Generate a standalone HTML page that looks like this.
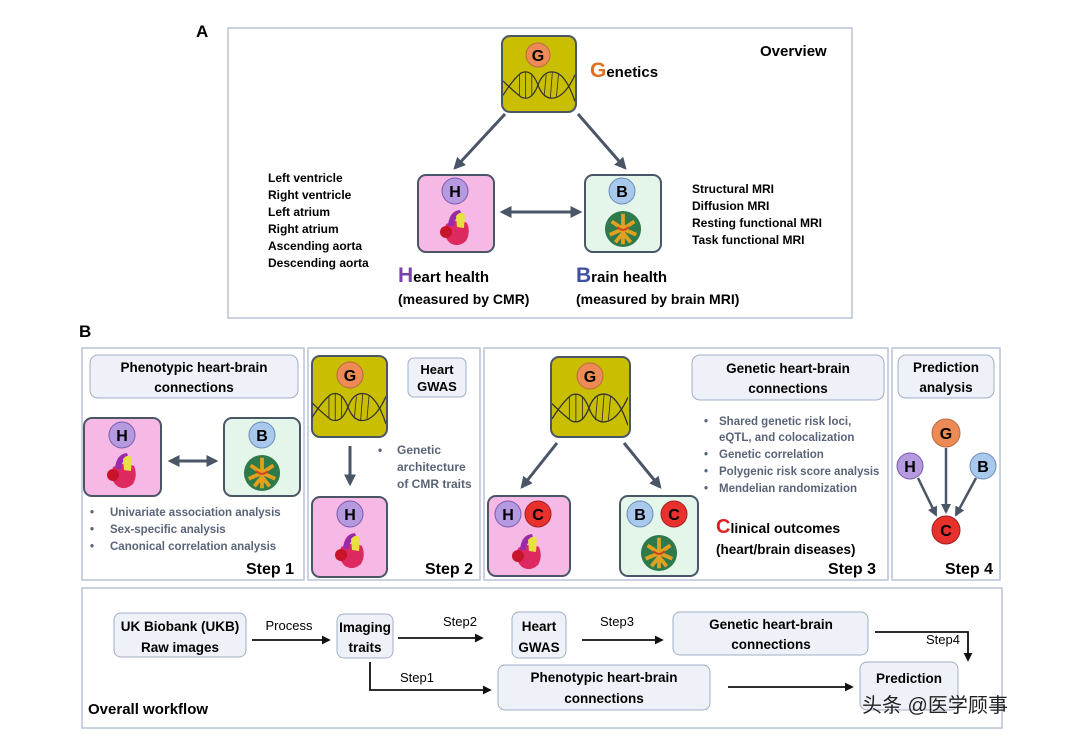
<!DOCTYPE html>
<html><head><meta charset="utf-8"><style>
html,body{margin:0;padding:0;background:#fff;}
svg{display:block;}
text{font-family:"Liberation Sans","Noto Sans CJK SC",sans-serif;}
.b{font-weight:bold;}
</style></head><body>
<svg width="1080" height="740" viewBox="0 0 1080 740" xmlns="http://www.w3.org/2000/svg">
<defs>
<marker id="ar" viewBox="0 0 10 10" refX="8" refY="5" markerWidth="4" markerHeight="4" orient="auto-start-reverse"><path d="M0,0L10,5L0,10z" fill="#4a5566"/></marker>
<marker id="ak" viewBox="0 0 10 10" refX="8" refY="5" markerWidth="5" markerHeight="5" orient="auto"><path d="M0,0L10,5L0,10z" fill="#111"/></marker>
<symbol id="heart" viewBox="0 0 30 38"><path d="M6 16 Q2 28 10 35 Q18 40 26 33 Q31 24 27 15 Q18 10 6 16z" fill="#dc2a60"/><circle cx="6" cy="24" r="6" fill="#c8142a"/><path d="M8 18 Q9 3 20 2 L22 8 Q14 9 14 18z" fill="#9a2aa8"/><path d="M16 8 Q21 2 25 7 L24 20 L17 19z" fill="#e8e040"/></symbol>
<symbol id="brain" viewBox="0 0 40 40"><circle cx="20" cy="20" r="19" fill="#2f7a4a"/><path d="M20 4 L20 36 M8 12 L20 20 L32 12 M6 26 L20 20 L34 26 M12 34 L20 24 L28 34" stroke="#e0a020" stroke-width="4" fill="none"/><path d="M14 18 Q20 24 26 18" stroke="#d04020" stroke-width="2" fill="none"/></symbol>
<symbol id="dna" viewBox="0 0 70 40"><path d="M0 30 Q10 14 18 8 Q28 4 34 20 Q40 36 52 32 Q62 28 70 10" stroke="#333" stroke-width="1.2" fill="none"/><path d="M0 16 Q10 26 18 32 Q28 36 34 20 Q40 4 52 8 Q62 12 70 36" stroke="#333" stroke-width="1.2" fill="none"/><path d="M16 10 L16 30 M22 7 L22 33 M28 9 L28 31 M42 10 L40 31 M48 7 L46 33 M54 9 L52 31" stroke="#333" stroke-width="0.8"/></symbol>
</defs>

<text x="196" y="37" font-size="17" class="b">A</text>
<rect x="228" y="28" width="624" height="290" fill="#fff" stroke="#b8c4d8" stroke-width="1.5"/>
<text x="760" y="56" font-size="15" class="b">Overview</text>
<rect x="502" y="36" width="74" height="76" rx="8" fill="#c9be00" stroke="#4a5566" stroke-width="2"/>
<use href="#dna" x="503" y="62" width="72" height="46"/>
<circle cx="538" cy="55" r="12" fill="#ee8a55" stroke="#b86a40"/><text x="538" y="61" font-size="16" class="b" text-anchor="middle">G</text>
<text x="590" y="77" font-size="15" class="b"><tspan fill="#e07020" font-size="21">G</tspan>enetics</text>
<line x1="505" y1="114" x2="455" y2="168" stroke="#4a5566" stroke-width="3" marker-end="url(#ar)"/>
<line x1="578" y1="114" x2="625" y2="168" stroke="#4a5566" stroke-width="3" marker-end="url(#ar)"/>
<rect x="418" y="175" width="76" height="77" rx="8" fill="#f6b8e4" stroke="#4a5566" stroke-width="2"/>
<circle cx="455" cy="191" r="13" fill="#b59ae0" stroke="#7a5ab0"/><text x="455" y="197" font-size="16" class="b" text-anchor="middle">H</text>
<use href="#heart" x="440" y="208" width="30" height="38"/>
<rect x="585" y="175" width="76" height="77" rx="8" fill="#e4f6ea" stroke="#4a5566" stroke-width="2"/>
<circle cx="622" cy="191" r="13" fill="#a8c8ec" stroke="#6a8ab8"/><text x="622" y="197" font-size="16" class="b" text-anchor="middle">B</text>
<use href="#brain" x="604" y="210" width="38" height="38"/>
<line x1="502" y1="212" x2="580" y2="212" stroke="#4a5566" stroke-width="3" marker-start="url(#ar)" marker-end="url(#ar)"/>
<g font-size="12" class="b"><text x="268" y="182">Left ventricle</text><text x="268" y="199">Right ventricle</text><text x="268" y="216">Left atrium</text><text x="268" y="233">Right atrium</text><text x="268" y="250">Ascending aorta</text><text x="268" y="267">Descending aorta</text>
<text x="692" y="193">Structural MRI</text><text x="692" y="210">Diffusion MRI</text><text x="692" y="227">Resting functional MRI</text><text x="692" y="244">Task functional MRI</text></g>
<text x="398" y="282" font-size="15" class="b"><tspan fill="#7a40b0" font-size="21">H</tspan>eart health</text>
<text x="398" y="304" font-size="14" class="b">(measured by CMR)</text>
<text x="576" y="282" font-size="15" class="b"><tspan fill="#4050a0" font-size="21">B</tspan>rain health</text>
<text x="576" y="304" font-size="14" class="b">(measured by brain MRI)</text>

<text x="79" y="337" font-size="17" class="b">B</text>
<g fill="#fff" stroke="#b8c4d8" stroke-width="1.5">
<rect x="82" y="348" width="222" height="232"/><rect x="308" y="348" width="172" height="232"/><rect x="484" y="348" width="404" height="232"/><rect x="892" y="348" width="108" height="232"/>
<rect x="82" y="588" width="920" height="140"/></g>

<rect x="90" y="355" width="208" height="43" rx="8" fill="#eef2f8" stroke="#a0aec4"/>
<text x="194" y="372" font-size="13.5" class="b" text-anchor="middle">Phenotypic heart-brain</text><text x="194" y="392" font-size="13.5" class="b" text-anchor="middle">connections</text>
<rect x="84" y="418" width="77" height="78" rx="8" fill="#f6b8e4" stroke="#4a5566" stroke-width="2"/>
<circle cx="122" cy="435" r="13" fill="#b59ae0" stroke="#7a5ab0"/><text x="122" y="441" font-size="16" class="b" text-anchor="middle">H</text>
<use href="#heart" x="107" y="451" width="30" height="38"/>
<rect x="224" y="418" width="76" height="78" rx="8" fill="#e4f6ea" stroke="#4a5566" stroke-width="2"/>
<circle cx="262" cy="435" r="13" fill="#a8c8ec" stroke="#6a8ab8"/><text x="262" y="441" font-size="16" class="b" text-anchor="middle">B</text>
<use href="#brain" x="243" y="454" width="38" height="38"/>
<line x1="170" y1="461" x2="216" y2="461" stroke="#4a5566" stroke-width="3" marker-start="url(#ar)" marker-end="url(#ar)"/>
<g font-size="11.5" class="b" fill="#5a6478"><text x="90" y="516">•</text><text x="110" y="516">Univariate association analysis</text><text x="90" y="533">•</text><text x="110" y="533">Sex-specific analysis</text><text x="90" y="550">•</text><text x="110" y="550">Canonical correlation analysis</text></g>
<text x="246" y="574" font-size="16" class="b">Step 1</text>

<rect x="312" y="356" width="75" height="81" rx="8" fill="#c9be00" stroke="#4a5566" stroke-width="2"/>
<use href="#dna" x="312" y="384" width="74" height="46"/>
<circle cx="350" cy="375" r="13" fill="#ee8a55" stroke="#b86a40"/><text x="350" y="381" font-size="16" class="b" text-anchor="middle">G</text>
<rect x="408" y="358" width="58" height="39" rx="6" fill="#eef2f8" stroke="#a0aec4"/>
<text x="437" y="374" font-size="13" class="b" text-anchor="middle">Heart</text><text x="437" y="391" font-size="13" class="b" text-anchor="middle">GWAS</text>
<line x1="350" y1="446" x2="350" y2="484" stroke="#4a5566" stroke-width="3" marker-end="url(#ar)"/>
<g font-size="12" class="b" fill="#5a6478"><text x="378" y="454">•</text><text x="397" y="454">Genetic</text><text x="397" y="471">architecture</text><text x="397" y="488">of CMR traits</text></g>
<rect x="312" y="497" width="75" height="80" rx="8" fill="#f6b8e4" stroke="#4a5566" stroke-width="2"/>
<circle cx="350" cy="514" r="13" fill="#b59ae0" stroke="#7a5ab0"/><text x="350" y="520" font-size="16" class="b" text-anchor="middle">H</text>
<use href="#heart" x="335" y="531" width="30" height="38"/>
<text x="425" y="574" font-size="16" class="b">Step 2</text>

<rect x="551" y="357" width="79" height="80" rx="8" fill="#c9be00" stroke="#4a5566" stroke-width="2"/>
<use href="#dna" x="552" y="385" width="76" height="46"/>
<circle cx="590" cy="376" r="13" fill="#ee8a55" stroke="#b86a40"/><text x="590" y="382" font-size="16" class="b" text-anchor="middle">G</text>
<line x1="557" y1="443" x2="522" y2="487" stroke="#4a5566" stroke-width="3" marker-end="url(#ar)"/>
<line x1="624" y1="443" x2="660" y2="487" stroke="#4a5566" stroke-width="3" marker-end="url(#ar)"/>
<rect x="692" y="355" width="192" height="45" rx="8" fill="#eef2f8" stroke="#a0aec4"/>
<text x="788" y="373" font-size="13.5" class="b" text-anchor="middle">Genetic heart-brain</text><text x="788" y="393" font-size="13.5" class="b" text-anchor="middle">connections</text>
<g font-size="11.5" class="b" fill="#5a6478"><text x="704" y="425">•</text><text x="719" y="425">Shared genetic risk loci,</text><text x="719" y="441">eQTL, and colocalization</text><text x="704" y="458">•</text><text x="719" y="458">Genetic correlation</text><text x="704" y="475">•</text><text x="719" y="475">Polygenic risk score analysis</text><text x="704" y="492">•</text><text x="719" y="492">Mendelian randomization</text></g>
<rect x="488" y="496" width="82" height="80" rx="8" fill="#f6b8e4" stroke="#4a5566" stroke-width="2"/>
<circle cx="508" cy="514" r="13" fill="#b59ae0" stroke="#7a5ab0"/><text x="508" y="520" font-size="16" class="b" text-anchor="middle">H</text>
<circle cx="538" cy="514" r="13" fill="#e8302c" stroke="#a02020"/><text x="538" y="520" font-size="16" class="b" text-anchor="middle">C</text>
<use href="#heart" x="512" y="532" width="30" height="38"/>
<rect x="620" y="496" width="78" height="80" rx="8" fill="#e4f6ea" stroke="#4a5566" stroke-width="2"/>
<circle cx="640" cy="514" r="13" fill="#a8c8ec" stroke="#6a8ab8"/><text x="640" y="520" font-size="16" class="b" text-anchor="middle">B</text>
<circle cx="674" cy="514" r="13" fill="#e8302c" stroke="#a02020"/><text x="674" y="520" font-size="16" class="b" text-anchor="middle">C</text>
<use href="#brain" x="640" y="534" width="38" height="38"/>
<text x="716" y="533" font-size="14" class="b"><tspan fill="#e02020" font-size="20">C</tspan>linical outcomes</text>
<text x="716" y="554" font-size="13.5" class="b">(heart/brain diseases)</text>
<text x="828" y="574" font-size="16" class="b">Step 3</text>

<rect x="898" y="355" width="96" height="43" rx="8" fill="#eef2f8" stroke="#a0aec4"/>
<text x="946" y="372" font-size="13.5" class="b" text-anchor="middle">Prediction</text><text x="946" y="392" font-size="13.5" class="b" text-anchor="middle">analysis</text>
<line x1="946" y1="448" x2="946" y2="512" stroke="#4a5566" stroke-width="2.5" marker-end="url(#ar)"/>
<line x1="918" y1="478" x2="936" y2="515" stroke="#4a5566" stroke-width="2.5" marker-end="url(#ar)"/>
<line x1="976" y1="478" x2="956" y2="515" stroke="#4a5566" stroke-width="2.5" marker-end="url(#ar)"/>
<circle cx="946" cy="433" r="14" fill="#ee8a55" stroke="#b86a40"/><text x="946" y="439" font-size="16" class="b" text-anchor="middle">G</text>
<circle cx="910" cy="466" r="13" fill="#b59ae0" stroke="#7a5ab0"/><text x="910" y="472" font-size="16" class="b" text-anchor="middle">H</text>
<circle cx="983" cy="466" r="13" fill="#a8c8ec" stroke="#6a8ab8"/><text x="983" y="472" font-size="16" class="b" text-anchor="middle">B</text>
<circle cx="946" cy="530" r="14" fill="#e8302c" stroke="#a02020"/><text x="946" y="536" font-size="16" class="b" text-anchor="middle">C</text>
<text x="945" y="574" font-size="16" class="b">Step 4</text>

<g fill="#eef2f8" stroke="#a0aec4">
<rect x="114" y="613" width="132" height="44" rx="7"/><rect x="337" y="614" width="56" height="44" rx="7"/><rect x="512" y="612" width="54" height="46" rx="7"/><rect x="673" y="612" width="195" height="43" rx="7"/><rect x="498" y="665" width="212" height="45" rx="7"/><rect x="860" y="662" width="98" height="48" rx="7"/></g>
<g font-size="13.5" class="b" text-anchor="middle">
<text x="180" y="631">UK Biobank (UKB)</text><text x="180" y="652">Raw images</text>
<text x="365" y="632">Imaging</text><text x="365" y="652">traits</text>
<text x="539" y="631">Heart</text><text x="539" y="652">GWAS</text>
<text x="771" y="629">Genetic heart-brain</text><text x="771" y="649">connections</text>
<text x="604" y="682">Phenotypic heart-brain</text><text x="604" y="703">connections</text>
<text x="909" y="683">Prediction</text></g>
<g font-size="13" text-anchor="middle"><text x="289" y="630">Process</text><text x="460" y="626">Step2</text><text x="617" y="626">Step3</text><text x="943" y="644">Step4</text><text x="417" y="682">Step1</text></g>
<g stroke="#111" stroke-width="1.8" fill="none">
<line x1="252" y1="640" x2="329" y2="640" marker-end="url(#ak)"/>
<line x1="398" y1="638" x2="482" y2="638" marker-end="url(#ak)"/>
<line x1="582" y1="640" x2="662" y2="640" marker-end="url(#ak)"/>
<polyline points="875,632 968,632 968,660" marker-end="url(#ak)"/>
<polyline points="370,662 370,690 490,690" marker-end="url(#ak)"/>
<line x1="728" y1="687" x2="852" y2="687" marker-end="url(#ak)"/></g>
<text x="88" y="714" font-size="15" class="b">Overall workflow</text>
<text x="862" y="712" font-size="20" fill="#222">头条 @医学顾事</text>
</svg>
</body></html>
